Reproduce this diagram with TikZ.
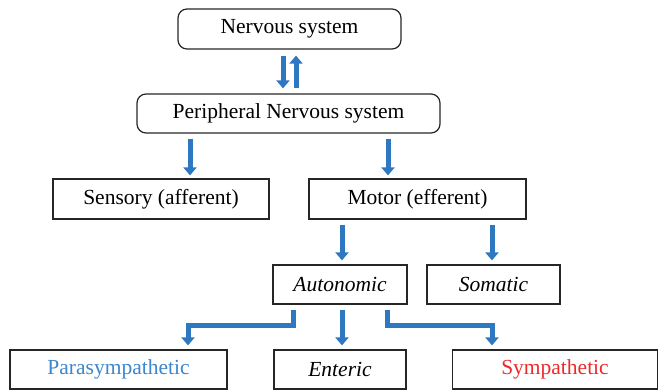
\documentclass[tikz,border=0pt]{standalone}
\usepackage{fontspec}
\setmainfont{Liberation Serif}
\usetikzlibrary{arrows.meta}
\definecolor{flowblue}{HTML}{2E78C2}
\definecolor{parablue}{HTML}{3B86CC}
\definecolor{symred}{HTML}{EC2A2C}
\begin{document}
\begin{tikzpicture}[x=1pt,y=-1pt,
  box/.style={draw=black!85,line width=1.2pt,inner sep=0pt,
    font=\fontsize{21.5}{25}\selectfont},
  rbox/.style={box,rounded corners=9pt},
  arr/.style={draw=flowblue,line width=5pt,line join=miter,
    -{Triangle[width=13pt,length=8pt]}}]
\useasboundingbox (0,0) rectangle (659,391);
% boxes: centre from corners
\node[rbox,minimum width=223pt,minimum height=40pt] (ns) at (289.5,29) {Nervous system};
\node[rbox,minimum width=303pt,minimum height=39pt] (pns) at (288.5,113.5) {Peripheral Nervous system};
\node[box,minimum width=216pt,minimum height=40pt] (sens) at (161,199) {Sensory (afferent)};
\node[box,minimum width=217pt,minimum height=40pt] (mot) at (417.5,199) {Motor (efferent)};
\node[box,minimum width=134pt,minimum height=39pt] (auto) at (340,284.5) {\itshape Autonomic};
\node[box,minimum width=133pt,minimum height=39pt] (som) at (493.5,284.5) {\itshape Somatic};
\node[box,minimum width=217pt,minimum height=39pt,text=parablue] (para) at (118.5,369.5) {Parasympathetic};
\node[box,minimum width=132pt,minimum height=39pt] (ent) at (340,369.5) {\itshape Enteric};
\node[box,minimum width=205pt,minimum height=39pt,text=symred] (symp) at (555,369.5) {Sympathetic};
% connectors
\draw[arr,shorten <=6pt,shorten >=5pt] ([xshift=-6.5pt]ns.south) -- ([xshift=-5.5pt]pns.north);
\draw[arr,shorten <=5pt,shorten >=6pt] ([xshift=7.5pt]pns.north) -- ([xshift=6.5pt]ns.south);
\draw[arr,shorten <=5pt,shorten >=3pt] ([xshift=-98.5pt]pns.south) -- ([xshift=29pt]sens.north);
\draw[arr,shorten <=5pt,shorten >=3pt] ([xshift=99.5pt]pns.south) -- ([xshift=-29.5pt]mot.north);
\draw[arr,shorten <=5pt,shorten >=4pt] ([xshift=-75.5pt]mot.south) -- ([xshift=2pt]auto.north);
\draw[arr,shorten <=5pt,shorten >=4pt] ([xshift=74.5pt]mot.south) -- ([xshift=-1.5pt]som.north);
\draw[arr,shorten <=5pt,shorten >=4pt] ([xshift=-47pt]auto.south) -- ++(0,21) -| ([xshift=69.5pt]para.north);
\draw[arr,shorten <=5pt,shorten >=4pt] ([xshift=2pt]auto.south) -- ([xshift=2pt]ent.north);
\draw[arr,shorten <=5pt,shorten >=4pt] ([xshift=47pt]auto.south) -- ++(0,21) -| ([xshift=-63pt]symp.north);
\end{tikzpicture}
\end{document}
